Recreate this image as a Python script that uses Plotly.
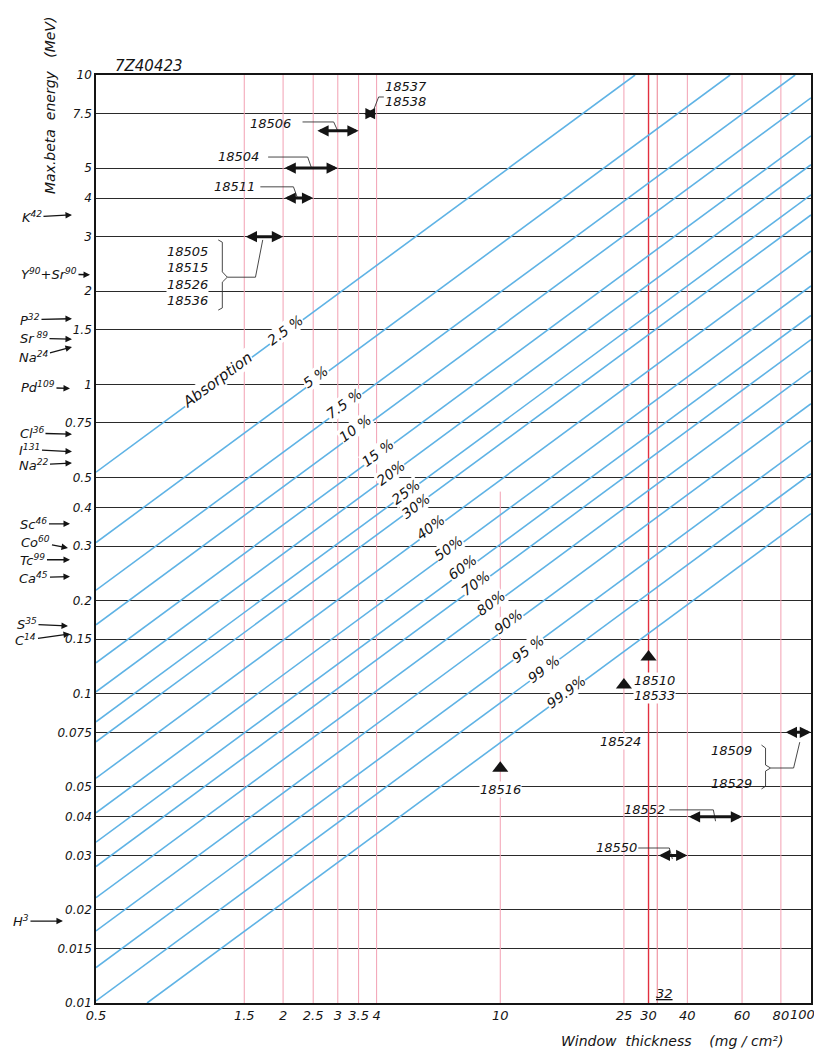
import numpy as np
import plotly.graph_objects as go

# ---------------- data ----------------
x_ticks = [0.5, 1.5, 2, 2.5, 3, 3.5, 4, 10, 25, 30, 40, 60, 80, 100]
x_ticktext = ["0.5", "1.5", "2", "2.5", "3", "3.5", "4", "10", "25", "30", "40", "60", "80", "100"]
y_ticks = [10, 7.5, 5, 4, 3, 2, 1.5, 1, 0.75, 0.5, 0.4, 0.3, 0.2, 0.15, 0.1,
           0.075, 0.05, 0.04, 0.03, 0.02, 0.015, 0.01]
y_ticktext = ["10", "7.5", "5", "4", "3", "2", "1.5", "1", "0.75", "0.5", "0.4", "0.3",
              "0.2", "0.15", "0.1", "0.075", "0.05", "0.04", "0.03", "0.02", "0.015", "0.01"]

# red reference thicknesses (mg/cm2) and the energy where each line starts at the top
red_t = [1.5, 2, 2.5, 3, 3.5, 4, 10, 25, 30, 32, 40, 60, 80]
red_top = [10, 10, 10, 10, 10, 10, 0.45, 10, 10, 10, 10, 10, 10]

# absorption curves: start / end points (thickness mg/cm2, energy MeV)
absorb_labels = ["2.5 %", "5 %", "7.5 %", "10 %", "15 %", "20%", "25%", "30%", "40%",
                 "50%", "60%", "70%", "80%", "90%", "95 %", "99 %", "99.9%"]
curve_t0 = [0.5, 0.5, 0.5, 0.5, 0.5, 0.5, 0.5, 0.5, 0.5, 0.5, 0.5, 0.5, 0.5, 0.5, 0.5, 0.5, 0.730]
curve_e0 = [0.520, 0.308, 0.216, 0.167, 0.1258, 0.1014, 0.0811, 0.0699, 0.0533, 0.0412,
            0.0331, 0.0276, 0.0219, 0.0171, 0.01302, 0.01016, 0.01]
curve_t1 = [27.15, 54.9, 88.9, 100, 100, 100, 100, 100, 100, 100, 100, 100, 100, 100, 100, 100, 100]
curve_e1 = [10, 10, 10, 8.44, 6.36, 5.13, 4.10, 3.53, 2.70, 2.08, 1.67, 1.395, 1.108, 0.866,
            0.658, 0.514, 0.382]

# detector windows: double arrows (energy, thickness range)
win_e = [7.5, 6.6, 5, 4, 3, 0.075, 0.04, 0.03]
win_t0 = [3.6, 2.55, 2.0, 2.0, 1.5, 82, 40, 32]
win_t1 = [4.0, 3.5, 3.0, 2.5, 2.0, 100, 60, 40]

# detector windows: single points (triangles)
tri_t = [10, 25, 30]
tri_e = [0.0574, 0.1066, 0.1313]

# isotopes and their maximum beta energies (MeV)
iso_names = ["K<sup>42</sup>", "Y<sup>90</sup>+Sr<sup>90</sup>", "P<sup>32</sup>", "Sr<sup> 89</sup>",
             "Na<sup>24</sup>", "Pd<sup>109</sup>", "Cl<sup>36</sup>", "I<sup>131</sup>",
             "Na<sup>22</sup>", "Sc<sup>46</sup>", "Co<sup>60</sup>", "Tc<sup>99</sup>",
             "Ca<sup>45</sup>", "S<sup>35</sup>", "C<sup>14</sup>", "H<sup>3</sup>"]
iso_energy = [3.53, 2.26, 1.63, 1.40, 1.32, 0.97, 0.69, 0.606, 0.557, 0.354, 0.296, 0.271,
              0.239, 0.1655, 0.156, 0.0184]

# ---------------- layout helpers (positions, styles) ----------------
def L(v):
    return float(np.log10(v))

FONT = "DejaVu Sans"
INK = "#141414"
BLUE = "#5fb3e5"

fig = go.Figure()

# red vertical lines
red_style = {30: ("#e2303f", 1.4), 32: ("#ec8090", 1.0)}
for t, top in zip(red_t, red_top):
    col, w = red_style.get(t, ("#f2a0b3", 1.0))
    fig.add_trace(go.Scatter(x=[t, t], y=[0.01, top], mode="lines",
                             line=dict(color=col, width=w), hoverinfo="skip"))

# blue absorption curves
bx, by = [], []
for t0, e0, t1, e1 in zip(curve_t0, curve_e0, curve_t1, curve_e1):
    bx += [t0, t1, None]
    by += [e0, e1, None]
fig.add_trace(go.Scatter(x=bx, y=by, mode="lines", line=dict(color=BLUE, width=1.6),
                         hoverinfo="skip"))

# thin leader lines and braces
leaders = [
    [(3.91, 7.70), (4.06, 8.49), (4.22, 8.49)],
    [(2.31, 7.05), (2.91, 7.05), (2.99, 6.64)],
    [(1.79, 5.43), (2.40, 5.43), (2.47, 5.0)],
    [(1.69, 4.35), (2.16, 4.35), (2.22, 4.03)],
    [(1.323, 2.22), (1.63, 2.22), (1.72, 2.93)],
    [(1.237, 2.93), (1.275, 2.88), (1.275, 2.31), (1.323, 2.22), (1.275, 2.14), (1.275, 1.766), (1.237, 1.738)],
    [(69.3, 0.0682), (71.4, 0.0667), (71.4, 0.0588), (74.1, 0.0575), (71.4, 0.0562), (71.4, 0.0502), (69.3, 0.0492)],
    [(74.1, 0.0575), (87.9, 0.0575), (92.0, 0.0697)],
    [(35.0, 0.0421), (48.5, 0.0421), (49.3, 0.0387)],
    [(27.8, 0.0317), (35.0, 0.0317), (35.8, 0.0292)],
]
lx, ly = [], []
for seg in leaders:
    lx += [p[0] for p in seg] + [None]
    ly += [p[1] for p in seg] + [None]
fig.add_trace(go.Scatter(x=lx, y=ly, mode="lines", line=dict(color="#333333", width=0.9),
                         hoverinfo="skip"))

# triangles
fig.add_trace(go.Scatter(x=tri_t, y=tri_e, mode="markers",
                         marker=dict(symbol="triangle-up", size=14, color=INK), hoverinfo="skip"))

# double arrows
for e, t0, t1 in zip(win_e, win_t0, win_t1):
    fig.add_annotation(x=L(t1), y=L(e), ax=L(t0), ay=L(e), xref="x", yref="y",
                       axref="x", ayref="y", text="", showarrow=True, arrowhead=2,
                       arrowside="end+start", arrowwidth=3, arrowsize=0.75, arrowcolor=INK)

# absorption labels (rotated, sitting on their curves)
abs_label_pos = [(2.035, 1.50), (2.54, 1.06), (3.13, 0.865), (3.42, 0.725), (4.03, 0.600),
                 (4.44, 0.518), (4.96, 0.450), (5.35, 0.405), (5.98, 0.345), (6.83, 0.295),
                 (7.58, 0.256), (8.35, 0.228), (9.33, 0.197), (10.59, 0.170), (12.28, 0.1395),
                 (13.83, 0.120), (16.3, 0.1012)]
ANG = -36.4
for txt, (t, e) in zip(absorb_labels, abs_label_pos):
    fig.add_annotation(x=L(t), y=L(e), xref="x", yref="y", text=txt, showarrow=False,
                       textangle=ANG, bgcolor="white", borderpad=0,
                       xanchor="center", yanchor="middle",
                       font=dict(family=FONT, size=14, color=INK, style="italic"))
fig.add_annotation(x=L(1.227), y=L(1.035), xref="x", yref="y", text="Absorption",
                   showarrow=False, textangle=ANG, bgcolor="white", borderpad=0,
                   xanchor="center", yanchor="middle",
                   font=dict(family=FONT, size=15, color=INK, style="italic"))

# detector type numbers
codes = [
    ("18537", 4.22, 9.21, "left", None), ("18538", 4.22, 8.24, "left", None),
    ("18506", 1.82, 6.95, "center", None), ("18504", 1.435, 5.47, "center", None),
    ("18511", 1.40, 4.35, "center", None),
    ("18505", 0.983, 2.68, "center", None), ("18515", 0.983, 2.38, "center", None),
    ("18526", 0.983, 2.10, "center", "white"), ("18536", 0.983, 1.86, "center", "white"),
    ("18516", 10, 0.049, "center", "white"), ("18524", 24.3, 0.070, "center", "white"),
    ("18510", 31.3, 0.1107, "center", "white"), ("18533", 31.3, 0.099, "center", "white"),
    ("18509", 55.5, 0.0657, "center", None), ("18529", 55.5, 0.0511, "center", None),
    ("18552", 29.1, 0.0421, "center", None), ("18550", 23.6, 0.0319, "center", None),
    ("<u>32</u>", 33.7, 0.0107, "center", None),
]
for txt, t, e, anc, bg in codes:
    fig.add_annotation(x=L(t), y=L(e), xref="x", yref="y", text=txt, showarrow=False,
                       xanchor=anc, yanchor="middle", bgcolor=bg, borderpad=0,
                       font=dict(family=FONT, size=13, color=INK, style="italic"))

# isotope labels with arrows on the left margin: (tip x in paper, ax, ay)
iso_pos = [(-0.0336, -40, 2), (-0.0084, -41, -1), (-0.0336, -42, 1), (-0.0336, -38, -1),
           (-0.0336, -38, 10), (-0.0364, -32, -1), (-0.0336, -40, -1), (-0.0336, -42, -2),
           (-0.0336, -38, 2), (-0.0364, -36, 0), (-0.0392, -32, -6), (-0.0364, -37, 0),
           (-0.0364, -36, 1), (-0.0392, -41, -2), (-0.0364, -44, 6), (-0.0462, -42, 0)]
for name, e, (px, ax, ay) in zip(iso_names, iso_energy, iso_pos):
    fig.add_annotation(x=px, y=L(e), xref="paper", yref="y", text=name, showarrow=True,
                       ax=ax, ay=ay, arrowhead=2, arrowsize=1, arrowwidth=1.3,
                       arrowcolor=INK, standoff=0,
                       font=dict(family=FONT, size=13, color=INK, style="italic"))

# titles and reference number
fig.add_annotation(x=0.074, y=1.0097, xref="paper", yref="paper", text="7Z40423",
                   xanchor="center", yanchor="middle", showarrow=False,
                   font=dict(family=FONT, size=15, color=INK, style="italic"))
fig.add_annotation(x=-0.0643, y=0.9666, xref="paper", yref="paper", textangle=-90,
                   xanchor="center", yanchor="middle",
                   text="Max.beta  energy   (MeV)", showarrow=False,
                   font=dict(family=FONT, size=14, color=INK, style="italic"))
fig.add_annotation(x=0.806, y=-0.0515, xref="paper", yref="paper",
                   xanchor="center", yanchor="bottom",
                   text="Window  thickness    (mg / cm²)", showarrow=False,
                   font=dict(family=FONT, size=14, color=INK, style="italic"))

# the last x tick label sits at the page edge: draw it right-aligned so it is not cut
x_tick_labels = [s if v != 100 else "" for v, s in zip(x_ticks, x_ticktext)]
fig.add_annotation(x=1.0080, y=-0.0129, xref="paper", yref="paper", text=x_ticktext[-1],
                   xanchor="right", yanchor="middle", showarrow=False,
                   font=dict(family=FONT, size=13, color=INK, style="italic"))

# page has an 8px body margin: plot area lands at x 96..811, y 75..1003
fig.update_layout(
    width=814, height=1043, margin=dict(l=88, r=11, t=67, b=48, autoexpand=False),
    plot_bgcolor="white", paper_bgcolor="white", showlegend=False,
    font=dict(family=FONT, size=13, color=INK),
)
fig.update_xaxes(type="log", range=[L(0.5), 2], tickmode="array", tickvals=x_ticks,
                 ticktext=x_tick_labels, showgrid=False, zeroline=False, showline=True,
                 linecolor=INK, linewidth=1.6, mirror=True, ticks="", automargin=False,
                 tickfont=dict(family=FONT, size=13, color=INK, style="italic"))
fig.update_yaxes(type="log", range=[-2, 1], tickmode="array", tickvals=y_ticks,
                 ticktext=y_ticktext, showgrid=True, gridcolor="#2a2a2a", gridwidth=1.1,
                 zeroline=False, showline=True, linecolor=INK, linewidth=1.6, mirror=True,
                 ticks="", automargin=False,
                 tickfont=dict(family=FONT, size=12, color=INK, style="italic"))

fig.write_html("out.html")
